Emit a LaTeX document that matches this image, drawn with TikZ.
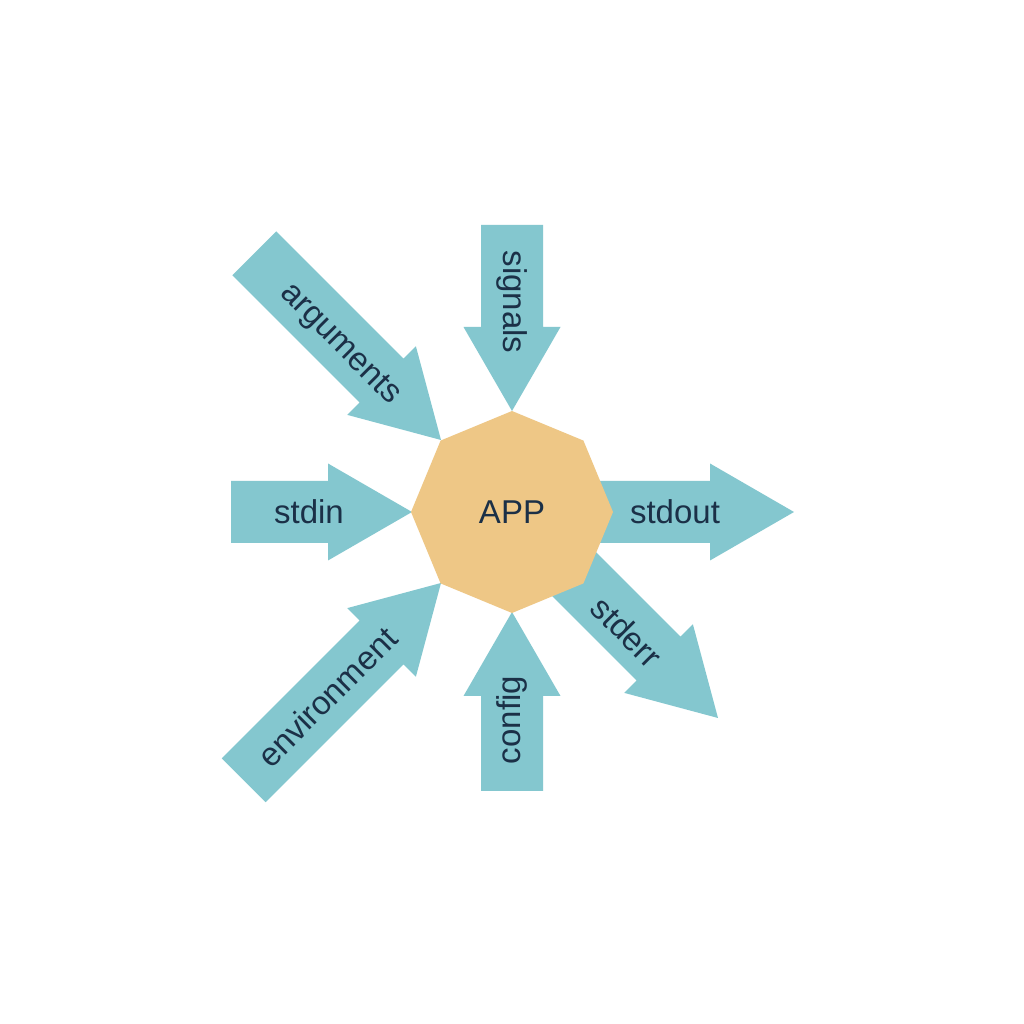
\documentclass[tikz,border=0pt]{standalone}
\usepackage{fontspec}
\setmainfont{Liberation Sans}
\usetikzlibrary{shapes.geometric}
\definecolor{teal}{HTML}{84C7CF}
\definecolor{sand}{HTML}{EEC786}
\definecolor{ink}{HTML}{1B3047}
\tikzset{
  arrowfill/.style={fill=teal},
  lbl/.style={text=ink, font=\fontsize{33}{40}\selectfont, inner sep=0pt},
  appnode/.style={regular polygon, regular polygon sides=8, shape border rotate=22.5,
    fill=sand, inner sep=0pt, outer sep=0pt, minimum size=202pt, text=ink,
    font=\fontsize{33}{40}\selectfont}
}
% #1 tip coordinate, #2 direction angle, #3 total length
\newcommand{\blockarrow}[3]{%
  \begin{scope}[shift={#1}, rotate=#2]
    \fill[arrowfill] (-#3,-31) -- (-84,-31) -- (-84,-48.5) -- (0,0)
      -- (-84,48.5) -- (-84,31) -- (-#3,31) -- cycle;
  \end{scope}}
\begin{document}
\begin{tikzpicture}[x=1pt,y=1pt]
\useasboundingbox (0,0) rectangle (1024,1024);
\fill[white] (0,0) rectangle (1024,1024);
% arrows
\blockarrow{(512,613)}{-90}{186}
\blockarrow{(412,512)}{0}{181}
\blockarrow{(794,512)}{0}{204}
\blockarrow{(512,412)}{90}{179}
\blockarrow{(441,584)}{-45}{264}
\blockarrow{(441,441)}{45}{279}
\blockarrow{(718,306)}{-45}{230}
% center
\node[appnode] (app) at (512,512) {APP};
% labels
\node[lbl, rotate=-90] (signals) at (512,722) {signals};
\node[lbl] (stdin) at (309,512) {stdin};
\node[lbl] (stdout) at (675,512) {stdout};
\node[lbl, rotate=90] (config) at (512,304) {config};
\node[lbl, rotate=-45] (arguments) at (340,679) {arguments};
\node[lbl, rotate=45] (environment) at (327,327) {environment};
\node[lbl, rotate=-45] (stderr) at (627,392) {stderr};
\end{tikzpicture}
\end{document}
